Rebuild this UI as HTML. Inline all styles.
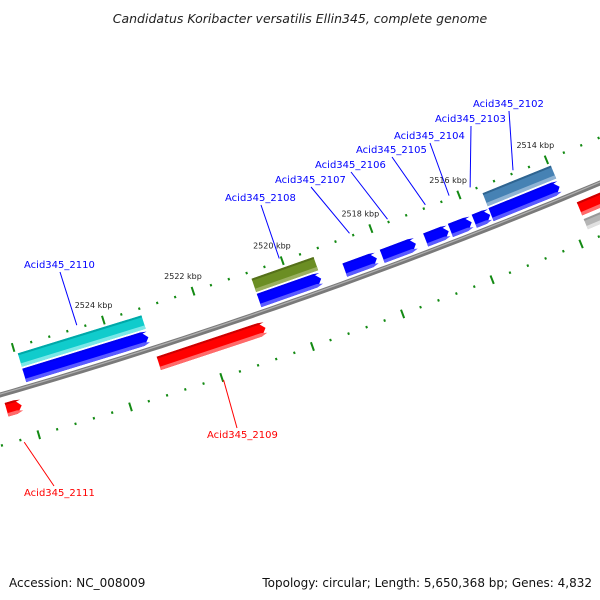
<!DOCTYPE html>
<html><head><meta charset="utf-8">
<style>
html,body{margin:0;padding:0;background:#fff;}
svg{display:block;font-family:"DejaVu Sans","Liberation Sans",sans-serif;}
</style></head>
<body>
<svg id="map" width="600" height="600" viewBox="0 0 600 600">
<text x="300" y="23" text-anchor="middle" font-size="12.5" font-style="italic" fill="#222">Candidatus Koribacter versatilis Ellin345, complete genome</text>
<text x="9" y="587" font-size="12" fill="#111">Accession: NC_008009</text>
<text x="592" y="587" font-size="12" text-anchor="end" fill="#111">Topology: circular; Length: 5,650,368 bp; Genes: 4,832</text>
<g id="plot"></g>
</svg>
<script>
// ---- data ----
const geneNames = ['Acid345_2110','Acid345_2108','Acid345_2107','Acid345_2106','Acid345_2105','Acid345_2104','Acid345_2103','Acid345_2102','Acid345_2109','Acid345_2111','Acid345_2101'];
const geneStart = [2525.94,2520.74,2518.82,2517.98,2517.0,2516.44,2515.9,2515.52,2523.16,2526.5,2513.75];
const geneEnd   = [2523.2,2519.35,2518.1,2517.22,2516.48,2515.96,2515.54,2513.96,2520.8,2526.17,2512.6];
const geneStrand= [1,1,1,1,1,1,1,1,-1,-1,-1];
const annotGene = ['Acid345_2110','Acid345_2108','Acid345_2102','Acid345_2101'];
const annotColor= ['cyan','olive','steel','silver'];
const tickLabels= [2524,2522,2520,2518,2516,2514];
const labelGenes= ['Acid345_2102','Acid345_2103','Acid345_2104','Acid345_2105','Acid345_2106','Acid345_2107','Acid345_2108','Acid345_2110','Acid345_2109','Acid345_2111'];
const labelPos  = [[473,107],[435,122],[394,139],[356,153],[315,168],[275,183],[225,201],[24,268],[207,438],[24,496]];

// ---- geometry (backbone arc) ----
const A=[0,395],B=[380,270],C=[600,183];
function circ(p1,p2,p3){const ax=p1[0],ay=p1[1],bx=p2[0],by=p2[1],cx=p3[0],cy=p3[1];
 const d=2*(ax*(by-cy)+bx*(cy-ay)+cx*(ay-by));
 const ux=((ax*ax+ay*ay)*(by-cy)+(bx*bx+by*by)*(cy-ay)+(cx*cx+cy*cy)*(ay-by))/d;
 const uy=((ax*ax+ay*ay)*(cx-bx)+(bx*bx+by*by)*(ax-cx)+(cx*cx+cy*cy)*(bx-ax))/d;
 return [ux,uy,Math.hypot(ax-ux,ay-uy)];}
const [CX,CY,R]=circ(A,B,C);
const phiA=Math.atan2(A[1]-CY,A[0]-CX), phiC=Math.atan2(C[1]-CY,C[0]-CX);
const dir=Math.sign(phiC-phiA);
function sOf(kbp){return 121+(2524-kbp)*47.5;}
function P(kbp,off){const ph=phiA+dir*sOf(kbp)/R;const r=R-off;return [CX+r*Math.cos(ph),CY+r*Math.sin(ph)];}
const NS='http://www.w3.org/2000/svg';
const plot=document.getElementById('plot');
function mk(tag,attrs,parent){const e=document.createElementNS(NS,tag);for(const k in attrs)e.setAttribute(k,attrs[k]);(parent||plot).appendChild(e);return e;}
function pts(a){return a.map(p=>p[0].toFixed(1)+','+p[1].toFixed(1)).join(' ');}

// backbone
(function(){const a=[],b=[],c=[];for(let k=2528;k>=2511;k-=0.25){a.push(P(k,2.5));b.push(P(k,-2.5));c.push(P(k,0.8));}
 let e=mk('polygon',{points:pts(a.concat(b.reverse())),fill:'#7a7a7a'});
 
 
 e=mk('polyline',{points:pts(c),fill:'none',stroke:'#b0b0b0','stroke-width':1.2});
 
 })();

// ticks
const tickOff=[42,-49];
for(let t=0;t<2;t++){
 for(let i=0;i<=40;i++){const k=2527.6-i*0.4;const major=Math.abs(k/2-Math.round(k/2))<0.01;
  const h=major?4.5:1.2;const o=tickOff[t];
  const p1=P(k,o-h),p2=P(k,o+h);
  const e=mk('line',{x1:p1[0],y1:p1[1],x2:p2[0],y2:p2[1],stroke:'#138a13','stroke-width':2});
  
  }
}
tickLabels.forEach(k=>{const p=P(k,58);const e=mk('text',{x:p[0]-5,y:p[1]+3,'font-size':8,'text-anchor':'middle',fill:'#222'});
 e.textContent=k+' kbp';
 
 });

// feature drawing
const pal={blue:['#0000ee','#0000ff','#5a5aff'],red:['#cc0000','#ff0000','#ff6a6a'],cyan:['#00a8a8','#10cccc','#7ae8e8'],olive:['#55701a','#6b8e23','#9ab060'],steel:['#2f6490','#4682b4','#8fb3d4'],silver:['#999','#b5b5b5','#e0e0e0']};
function bar(k1,k2,o1,o2,col,arrow,name){
 const c=pal[col];const g=mk('g',{});
 
 
 function shape(a,b,lo,hi){ // a start, b end (arrow at b)
  const hl=6/47.5;const mid=(lo+hi)/2;
  if(!arrow) return [P(a,lo),P(b,lo),P(b,hi),P(a,hi)];
  const sgn=Math.sign(a-b);const bb=b+sgn*hl;
  return [P(a,lo),P(bb,lo),P(b,mid),P(bb,hi),P(a,hi)];}
 let a=k1,b=k2; if(arrow==='rev'){a=k2;b=k1;}
 mk('polygon',{points:pts(shape(a,b,o1,o2)),fill:c[1]},g);
 mk('polygon',{points:pts(shape(a,b,o2-2,o2)),fill:c[0]},g);
 const lowEdge=o1+3.5;
 mk('polygon',{points:pts(shape(a,b,o1,lowEdge)),fill:c[2]},g);
}
geneNames.forEach((n,i)=>{
 if(geneStrand[i]>0) bar(geneStart[i],geneEnd[i],5,19,'blue','fwd',n+'-cds');
 else bar(geneEnd[i],geneStart[i],-23,-9,'red','rev',n+'-cds');
});
annotGene.forEach((n,i)=>{const gi=geneNames.indexOf(n);const s=geneStart[gi],e=geneEnd[gi];
 if(geneStrand[gi]>0) bar(s,e,21,35,annotColor[i],null,n+'-feature');
 else bar(e,s,-38,-27,annotColor[i],null,n+'-feature');});

// labels
labelGenes.forEach((n,i)=>{const gi=geneNames.indexOf(n);const mid=(geneStart[gi]+geneEnd[gi])/2;const up=geneStrand[gi]>0;
 const lp=labelPos[i];const col=up?'#0000ff':'#ff0000';
 const end=up?P(mid,45):P(mid,-52);
 const start=up?[lp[0]+36,lp[1]+4]:[lp[0]+30,lp[1]-10];
 const l=mk('line',{x1:start[0],y1:start[1],x2:end[0],y2:end[1],stroke:col,'stroke-width':1});
 
 
 const t=mk('text',{x:lp[0],y:lp[1],'font-size':10,fill:col});
 t.textContent=n;
 
 });
</script>
</body></html>
